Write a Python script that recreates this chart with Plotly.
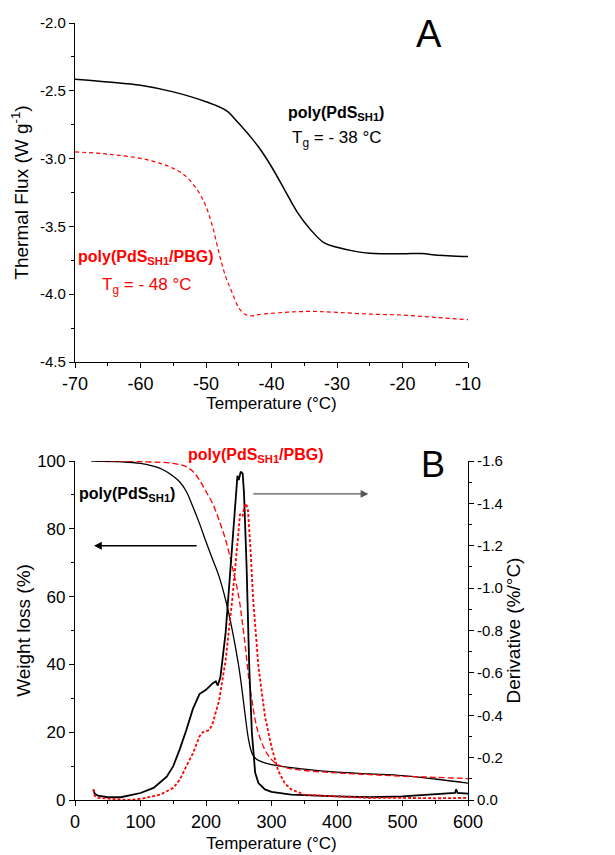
import plotly.graph_objects as go

# ---------------- Panel A (DSC) data ----------------
dsc_T_black = [-70, -65, -60, -55, -50, -47, -45, -42, -40, -38, -36, -34, -32, -30, -27, -25, -20, -17, -15, -10]
dsc_black = [-2.415, -2.435, -2.459, -2.508, -2.581, -2.643, -2.74, -2.913, -3.06, -3.23, -3.40, -3.526, -3.62,
             -3.654, -3.686, -3.698, -3.702, -3.700, -3.71, -3.722]
dsc_T_red = [-70, -65, -60, -57, -55, -53, -51, -50, -49, -48, -47, -46, -45, -44, -43, -42, -38, -34, -30, -25,
             -20, -15, -10]
dsc_red = [-2.95, -2.967, -2.998, -3.035, -3.072, -3.133, -3.256, -3.354, -3.50, -3.70, -3.87, -3.99, -4.10,
           -4.15, -4.16, -4.15, -4.134, -4.127, -4.134, -4.147, -4.154, -4.171, -4.188]

# ---------------- Panel B (TGA) data ----------------
tga_T_black = [25, 100, 130, 150, 160, 170, 180, 190, 200, 210, 220, 230, 240, 250, 255, 260, 265, 270, 275,
               280, 300, 350, 400, 450, 500, 550, 600]
tga_black = [100, 99.3, 97.8, 95.5, 93.8, 91, 86.5, 81.6, 76.2, 71, 65.9, 59, 50.2, 39.4, 32.5, 24.7, 17.8,
             13.9, 12.4, 11.7, 10.4, 9.1, 8.2, 7.7, 7.2, 6.2, 5.0]
tga_T_red = [25, 100, 150, 170, 180, 190, 200, 210, 220, 230, 240, 250, 255, 260, 265, 270, 275, 280, 290,
             300, 310, 325, 350, 400, 450, 500, 550, 600]
tga_red = [100.2, 99.8, 99.3, 98.3, 96.9, 94.4, 91, 87.5, 82.5, 76.7, 68.9, 60, 53.1, 45.3, 36.4, 29.6, 23.7,
           19.7, 14.8, 11.9, 10.4, 9.4, 8.7, 8.0, 7.5, 7.0, 6.7, 6.3]

dtg_T_black = [28, 30, 35, 50, 70, 100, 120, 140, 150, 160, 170, 180, 190, 200, 210, 215, 218, 222, 230, 240,
               245, 248, 250, 253, 256, 258, 262, 266, 270, 275, 280, 290, 300, 330, 400, 450, 500, 550, 580,
               582, 584, 600]
dtg_black = [-0.05, -0.03, -0.02, -0.013, -0.013, -0.033, -0.057, -0.11, -0.16, -0.24, -0.33, -0.43, -0.50,
             -0.52, -0.55, -0.56, -0.54, -0.58, -0.79, -1.18, -1.42, -1.53, -1.51, -1.55, -1.54, -1.45, -1.10,
             -0.63, -0.32, -0.13, -0.08, -0.05, -0.038, -0.025, -0.017, -0.013, -0.017, -0.025, -0.033, -0.05,
             -0.033, -0.03]
dtg_T_red = [28, 30, 35, 80, 100, 130, 150, 160, 170, 180, 190, 195, 200, 205, 210, 220, 230, 240, 248, 252,
             256, 258, 261, 264, 268, 272, 276, 280, 290, 300, 310, 320, 330, 350, 400, 450, 500, 550, 600]
dtg_red = [-0.05, -0.02, -0.01, 0.0, -0.005, -0.025, -0.057, -0.096, -0.16, -0.22, -0.30, -0.32, -0.324, -0.33,
           -0.36, -0.47, -0.66, -0.945, -1.21, -1.35, -1.34, -1.38, -1.40, -1.37, -1.18, -0.945, -0.79, -0.63,
           -0.395, -0.25, -0.14, -0.08, -0.05, -0.025, -0.017, -0.01, -0.01, -0.008, -0.01]

# tick labels
a_xticks = [-70, -60, -50, -40, -30, -20, -10]
a_xtext = ["-70", "-60", "-50", "-40", "-30", "-20", "-10"]
a_yticks = [-2.0, -2.5, -3.0, -3.5, -4.0, -4.5]
a_ytext = ["-2.0", "-2.5", "-3.0", "-3.5", "-4.0", "-4.5"]
b_xticks = [0, 100, 200, 300, 400, 500, 600]
b_yticks = [0, 20, 40, 60, 80, 100]
b_y2ticks = [0.0, -0.2, -0.4, -0.6, -0.8, -1.0, -1.2, -1.4, -1.6]
b_y2text = ["0.0", "-0.2", "-0.4", "-0.6", "-0.8", "-1.0", "-1.2", "-1.4", "-1.6"]

OFF = 8  # page body margin
W, H = 615 - OFF, 855 - OFF
FONT = "Arial, Liberation Sans, sans-serif"


def px(x):
    return (x - OFF) / W


def py(y):
    return 1 - (y - OFF) / H


fig = go.Figure()
fig.add_trace(go.Scatter(x=dsc_T_black, y=dsc_black, mode="lines", line=dict(color="black", width=1.5, shape="spline"),
                         xaxis="x", yaxis="y", showlegend=False))
fig.add_trace(go.Scatter(x=dsc_T_red, y=dsc_red, mode="lines",
                         line=dict(color="red", width=1.2, dash="4px,3px", shape="spline"),
                         xaxis="x", yaxis="y", showlegend=False))

fig.add_trace(go.Scatter(x=tga_T_black, y=tga_black, mode="lines", line=dict(color="black", width=1.3, shape="spline"),
                         xaxis="x2", yaxis="y2", showlegend=False))
fig.add_trace(go.Scatter(x=tga_T_red, y=tga_red, mode="lines",
                         line=dict(color="red", width=1.3, dash="6px,3px", shape="spline"),
                         xaxis="x2", yaxis="y2", showlegend=False))
fig.add_trace(go.Scatter(x=dtg_T_black, y=dtg_black, mode="lines", line=dict(color="black", width=1.8),
                         xaxis="x2", yaxis="y3", showlegend=False))
fig.add_trace(go.Scatter(x=dtg_T_red, y=dtg_red, mode="lines",
                         line=dict(color="red", width=1.8, dash="3px,2px"),
                         xaxis="x2", yaxis="y3", showlegend=False))


def ax_style(size, minor_dtick, minor_tick0=None):
    m = dict(dtick=minor_dtick, ticks="outside", ticklen=3, tickwidth=1, tickcolor="black", showgrid=False)
    if minor_tick0 is not None:
        m["tick0"] = minor_tick0
    return dict(showline=True, linecolor="black", linewidth=1.2, ticks="outside", ticklen=5, tickwidth=1.2,
                tickcolor="black", showgrid=False, zeroline=False, mirror=False, automargin=False,
                tickfont=dict(family=FONT, size=size, color="black"), minor=m)


xdom = [px(75), px(468)]
fig.update_layout(
    width=W, height=H, margin=dict(l=0, r=0, t=0, b=0),
    plot_bgcolor="white", paper_bgcolor="white",
    font=dict(family=FONT, color="black"),
    xaxis=dict(domain=xdom, anchor="y", range=[-70, -10], tickvals=a_xticks, ticktext=a_xtext,
               title=dict(text="Temperature (°C)", font=dict(size=17), standoff=4),
               **ax_style(18, 5)),
    yaxis=dict(domain=[py(362), py(23)], anchor="x", range=[-4.5, -2.0], tickvals=a_yticks, ticktext=a_ytext,
               title=dict(text="Thermal Flux (W g<sup>-1</sup>)", font=dict(size=19), standoff=8),
               **ax_style(15, 0.25, -4.5)),
    xaxis2=dict(domain=xdom, anchor="y2", range=[0, 600], tickvals=b_xticks,
                title=dict(text="Temperature (°C)", font=dict(size=17), standoff=6),
                **ax_style(18, 50)),
    yaxis2=dict(domain=[py(800), py(461)], anchor="x2", range=[0, 100], tickvals=b_yticks,
                title=dict(text="Weight loss (%)", font=dict(size=19), standoff=1),
                **ax_style(17, 10)),
    yaxis3=dict(domain=[py(800), py(461)], anchor="x2", overlaying="y2", side="right", range=[0, -1.6],
                tickvals=b_y2ticks, ticktext=b_y2text,
                title=dict(text="Derivative (%/°C)", font=dict(size=19), standoff=4),
                **ax_style(15, 0.1)),
)

ann = [
    dict(text="A", x=px(429), y=py(34), font=dict(size=38, color="black")),
    dict(text="<b>poly(PdS<sub>SH1</sub>)</b>", x=px(336), y=py(113), font=dict(size=16, color="black")),
    dict(text="T<sub>g</sub> = - 38 °C", x=px(336), y=py(139), font=dict(size=17, color="black")),
    dict(text="<b>poly(PdS<sub>SH1</sub>/PBG)</b>", x=px(146), y=py(258), font=dict(size=16, color="red")),
    dict(text="T<sub>g</sub> = - 48 °C", x=px(146), y=py(286), font=dict(size=17, color="red")),
    dict(text="B", x=px(433), y=py(464), font=dict(size=36, color="black")),
    dict(text="<b>poly(PdS<sub>SH1</sub>/PBG)</b>", x=px(256), y=py(455), font=dict(size=16, color="red")),
    dict(text="<b>poly(PdS<sub>SH1</sub>)</b>", x=px(127), y=py(494), font=dict(size=16, color="black")),
]
for a in ann:
    fig.add_annotation(xref="paper", yref="paper", showarrow=False, xanchor="center", yanchor="middle",
                       font_family=FONT, **a)

# arrows (data-space positions in panel B)
fig.add_annotation(xref="x2", yref="y2", axref="x2", ayref="y2", x=29, y=75, ax=188, ay=75, text="",
                   showarrow=True, arrowhead=2, arrowsize=1.2, arrowwidth=1.3, arrowcolor="black")
fig.add_annotation(xref="x2", yref="y2", axref="x2", ayref="y2", x=448, y=90.3, ax=270, ay=90.3, text="",
                   showarrow=True, arrowhead=2, arrowsize=1.2, arrowwidth=1.3, arrowcolor="#555555")

fig.write_html("out.html")
